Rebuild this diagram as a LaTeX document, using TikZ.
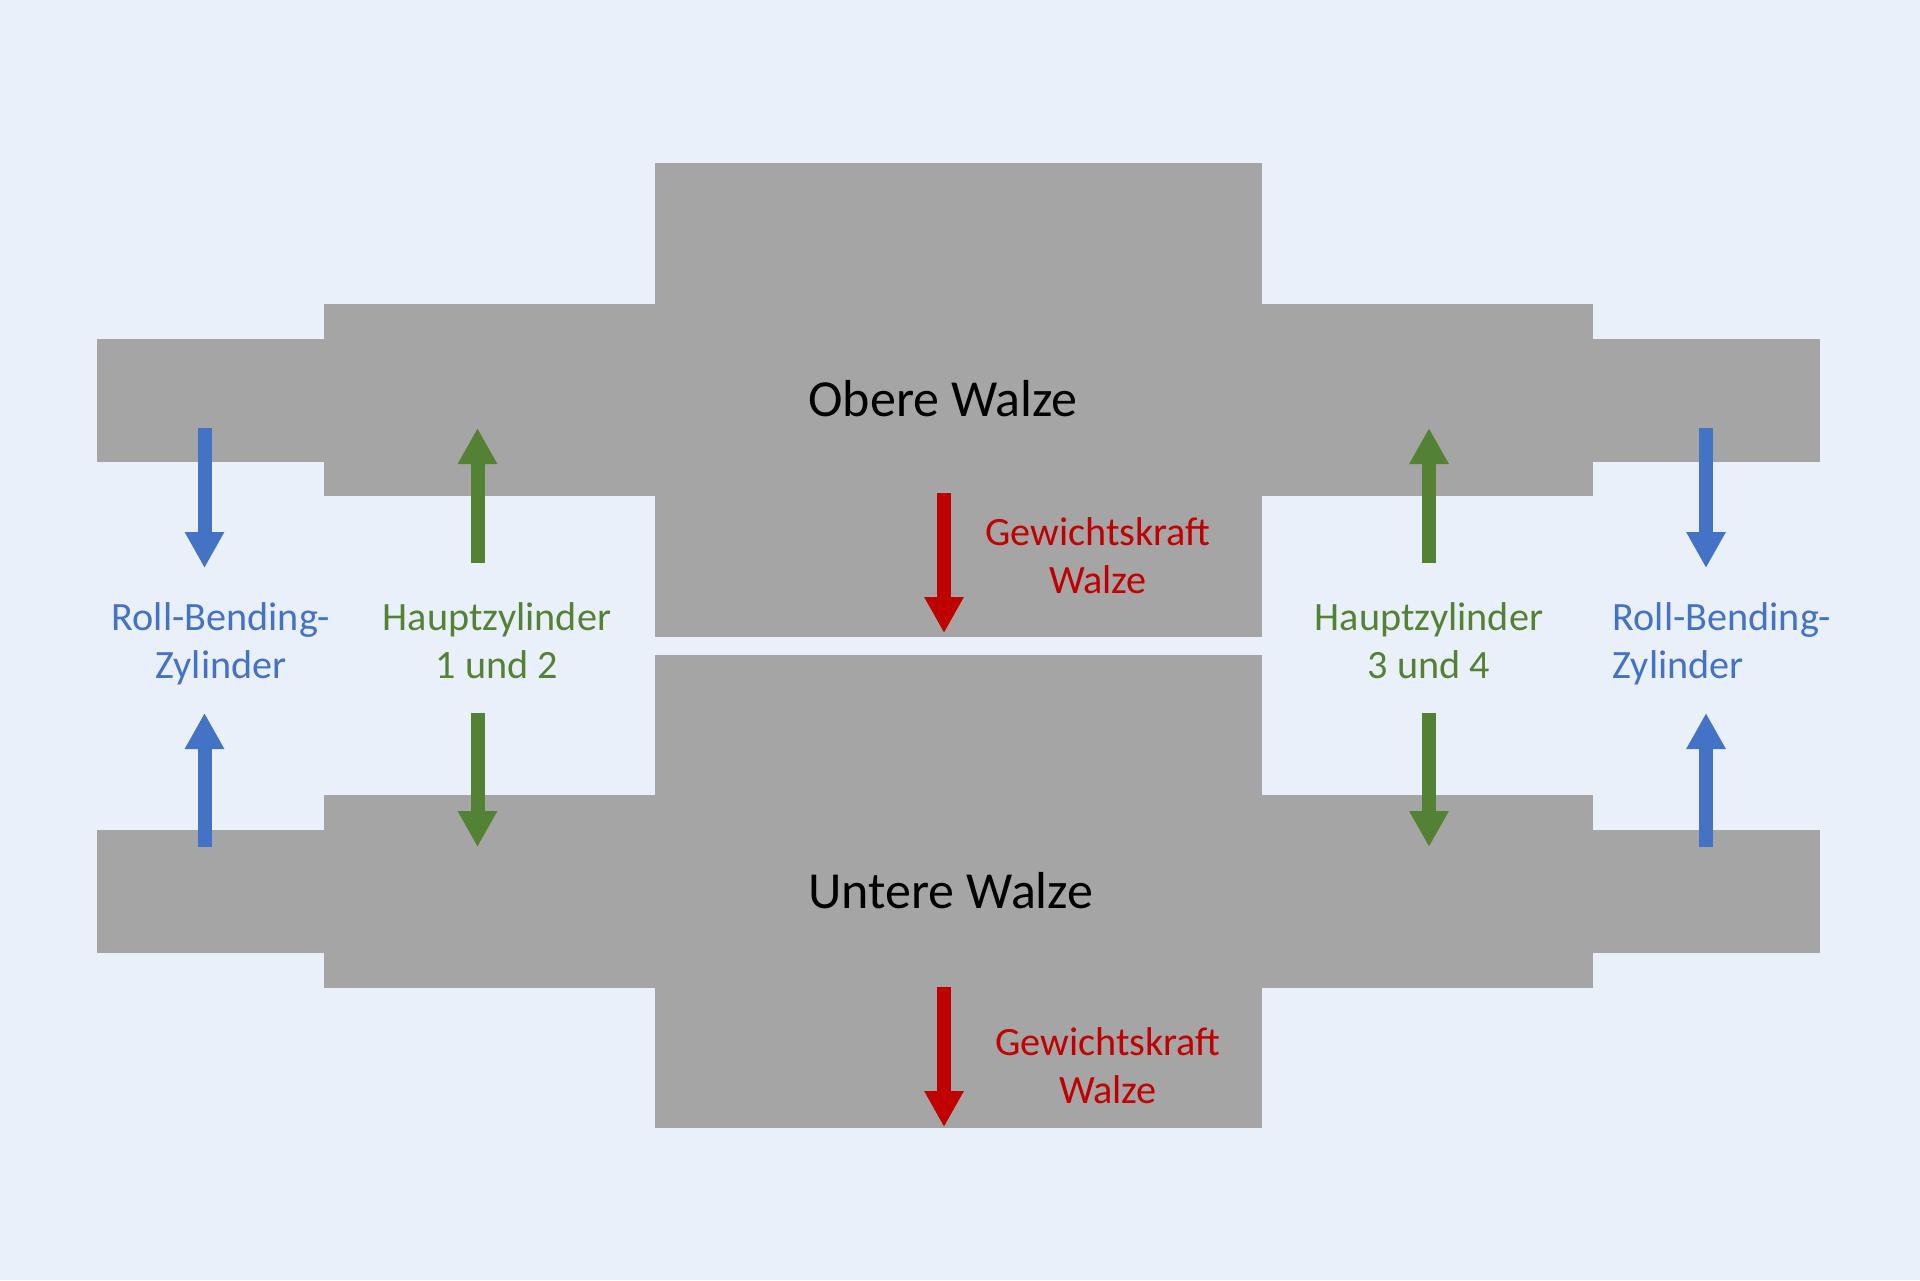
\documentclass[tikz,border=0pt]{standalone}
\usepackage{fontspec}
\setmainfont{Carlito}
\usetikzlibrary{arrows.meta}
\definecolor{bgc}{HTML}{E9F0FA}
\definecolor{rollc}{HTML}{A5A5A5}
\definecolor{bluec}{HTML}{4472C4}
\definecolor{greenc}{HTML}{548235}
\definecolor{redc}{HTML}{C00000}
\tikzset{
  roll/.style={fill=rollc,draw=none},
  force/.style={line width=7pt,-{Triangle[length=18pt,width=18.5pt]}},
  lbl/.style={inner sep=0pt,align=center,font=\fontsize{20.1}{24}\selectfont},
  biglbl/.style={inner sep=0pt,anchor=west,text=black,font=\fontsize{26}{30}\selectfont},
}
\begin{document}
\begin{tikzpicture}[x=0.5pt,y=-0.5pt]
\useasboundingbox (0,0) rectangle (1920,1280);
\fill[bgc] (0,0) rectangle (1920,1280);
% upper roll
\fill[roll] (97,339) rectangle (1820,461.5);
\fill[roll] (323.5,304) rectangle (1593,495.5);
\fill[roll] (655,163) rectangle (1262,637);
% lower roll
\fill[roll] (97,830) rectangle (1820,952.5);
\fill[roll] (323.5,795) rectangle (1593,987.5);
\fill[roll] (655,655) rectangle (1262,1127.5);
% arrow ends
\coordinate (bl1s) at (204.5,428); \coordinate (bl1e) at (204.5,568);
\coordinate (bl2s) at (204.5,847); \coordinate (bl2e) at (204.5,713);
\coordinate (gl1s) at (477.5,563); \coordinate (gl1e) at (477.5,428);
\coordinate (gl2s) at (477.5,713); \coordinate (gl2e) at (477.5,847);
\coordinate (gr1s) at (1429,563); \coordinate (gr1e) at (1429,428);
\coordinate (gr2s) at (1429,713); \coordinate (gr2e) at (1429,847);
\coordinate (br1s) at (1706,428); \coordinate (br1e) at (1706,568);
\coordinate (br2s) at (1706,847); \coordinate (br2e) at (1706,713);
\coordinate (r1s) at (944,493); \coordinate (r1e) at (944,633);
\coordinate (r2s) at (944,987); \coordinate (r2e) at (944,1127);
\draw[force,bluec] (bl1s) -- (bl1e);
\draw[force,bluec] (bl2s) -- (bl2e);
\draw[force,greenc] (gl1s) -- (gl1e);
\draw[force,greenc] (gl2s) -- (gl2e);
\draw[force,greenc] (gr1s) -- (gr1e);
\draw[force,greenc] (gr2s) -- (gr2e);
\draw[force,bluec] (br1s) -- (br1e);
\draw[force,bluec] (br2s) -- (br2e);
\draw[force,redc] (r1s) -- (r1e);
\draw[force,redc] (r2s) -- (r2e);
% labels
\node[biglbl] (obere) at (808,399) {Obere Walze};
\node[biglbl] (untere) at (808,891) {Untere Walze};
\node[lbl,text=redc] (g1) at (1098,556) {Gewichtskraft\\Walze};
\node[lbl,text=redc] (g2) at (1108,1066) {Gewichtskraft\\Walze};
\node[lbl,text=bluec] (rb1) at (221,644) {Roll-Bending-\\Zylinder};
\node[lbl,text=greenc] (h1) at (497,641) {Hauptzylinder\\1 und 2};
\node[lbl,text=greenc] (h2) at (1429,641) {Hauptzylinder\\3 und 4};
\node[lbl,text=bluec,align=left] (rb2) at (1722,644) {Roll-Bending-\\Zylinder};
\end{tikzpicture}
\end{document}
